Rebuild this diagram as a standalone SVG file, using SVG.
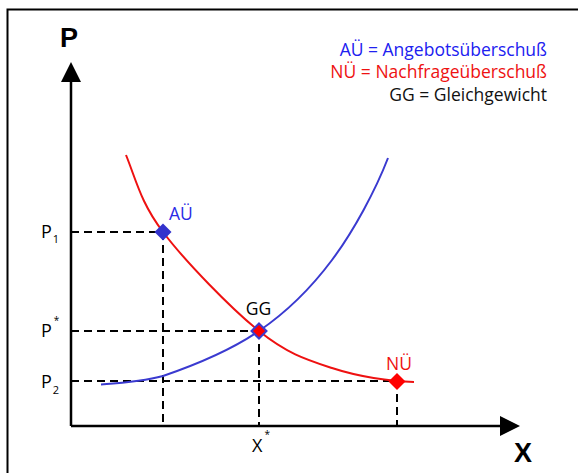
<svg xmlns="http://www.w3.org/2000/svg" width="578" height="473" viewBox="0 0 578 473">
<style>
.t{font-family:"Open Sans","Liberation Sans",sans-serif;}
.b{font-family:"Liberation Sans","Open Sans",sans-serif;font-weight:bold;font-size:27px;fill:#000;}
.dash{stroke:#000;stroke-width:2;stroke-dasharray:8 5;fill:none;}
.axis{stroke:#000;stroke-width:2.5;fill:none;}
</style>
<rect x="0" y="0" width="578" height="473" fill="#fff"/>
<path d="M7.5,480 V9.5 H590" fill="none" stroke="#000" stroke-width="2"/>
<g id="connectors">
<path class="dash" d="M71,232 H163 M163,232 V426"/>
<path class="dash" d="M71,331 H259 M259,331 V426"/>
<path class="dash" d="M71,381 H397 M397,381 V426"/>
<path class="axis" d="M71,426 V80"/>
<path class="axis" d="M71,426 H502"/>
<polygon points="71,62 61,82 81,82" fill="#000"/>
<polygon points="520,426 500,416 500,436" fill="#000"/>
<path id="demand" d="M126,155 C136.5,181 140.8,202.7 163,232 C185.2,261.3 230.8,308.3 259,331 C287.2,353.7 306.2,359.5 332,368 C357.8,376.5 390,381.5 414,382" fill="none" stroke="#ee1111" stroke-width="2"/>
<path id="supply" d="M101,384.5 C121,383 142.3,381.6 163,376 C189.3,367 230.8,350.3 259,331 C287.2,311.7 310.5,288.8 332,260 C353.5,231.2 375.4,190.6 388,158" fill="none" stroke="#3a3ad0" stroke-width="2"/>
</g>
<g id="node-au">
<polygon points="163,223.5 171.5,232 163,240.5 154.5,232" fill="#3333cc"/>
<text class="t" x="169" y="220" font-size="17.5" fill="#2a2ae6">AÜ</text>
</g>
<g id="node-gg">
<polygon points="259,323.5 266.5,331 259,338.5 251.5,331" fill="#ff0000" stroke="#3a3ad0" stroke-width="2"/>
<text class="t" x="258.5" y="315" font-size="17.5" fill="#000" text-anchor="middle">GG</text>
</g>
<g id="node-nu">
<polygon points="397,373 405.5,381.5 397,390 388.5,381.5" fill="#ff0000"/>
<text class="t" x="386" y="370" font-size="17.5" fill="#ee1111">NÜ</text>
</g>
<g id="labels">
<text class="b" x="60" y="47">P</text>
<text class="b" x="514" y="462">X</text>
<text class="t" x="41" y="238" font-size="18">P<tspan font-size="11" dx="1" dy="5">1</tspan></text>
<text class="t" x="41" y="337" font-size="18">P<tspan font-size="10" dx="2" dy="-13">*</tspan></text>
<text class="t" x="41" y="388" font-size="18">P<tspan font-size="11" dx="1" dy="6">2</tspan></text>
<text class="t" x="252" y="452" font-size="18">X<tspan font-size="10" dx="2" dy="-14">*</tspan></text>
</g>
<g id="legend" class="t" font-size="17.5" text-anchor="end">
<text x="547" y="56" fill="#2020f0">AÜ = Angebotsüberschuß</text>
<text x="547" y="78" fill="#ee1111">NÜ = Nachfrageüberschuß</text>
<text x="547" y="101" fill="#111">GG = Gleichgewicht</text>
</g>
</svg>
